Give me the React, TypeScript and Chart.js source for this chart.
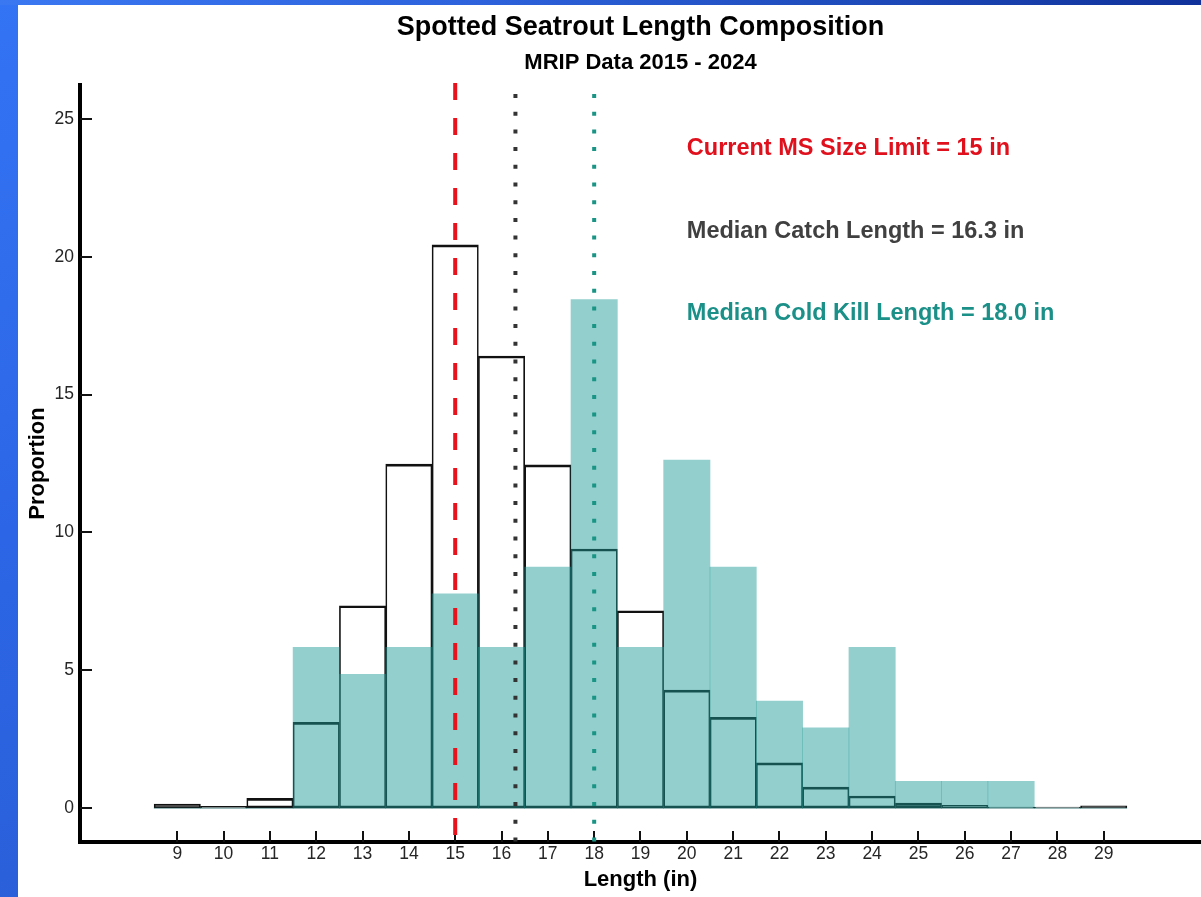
import React, { useEffect, useRef } from "react";
import { Chart, registerables } from "chart.js";

Chart.register(...registerables);

// ---------------- data ----------------
const lengthBins = [9, 10, 11, 12, 13, 14, 15, 16, 17, 18, 19, 20, 21, 22, 23, 24, 25, 26, 27, 28, 29];
const catchPct = [0.15, 0.06, 0.35, 3.11, 7.34, 12.48, 20.43, 16.4, 12.45, 9.4, 7.16, 4.28, 3.29, 1.64, 0.76, 0.44, 0.18, 0.1, 0.04, 0.04, 0.08];
const coldKillPct = [0, 0, 0, 5.83, 4.85, 5.83, 7.77, 5.83, 8.74, 18.45, 5.83, 12.62, 8.74, 3.88, 2.91, 5.83, 0.97, 0.97, 0.97, 0, 0];
const xTickValues = [9, 10, 11, 12, 13, 14, 15, 16, 17, 18, 19, 20, 21, 22, 23, 24, 25, 26, 27, 28, 29];
const yTickValues = [0, 5, 10, 15, 20, 25];
const refValues = [15, 16.3, 18.0];
const refLabels = [
  "Current MS Size Limit = 15 in",
  "Median Catch Length = 16.3 in",
  "Median Cold Kill Length = 18.0 in",
];
const refLabelY = [24, 21, 18];
const refLabelX = 20;

// ---------------- styles ----------------
const FONT = "Arial, 'Liberation Sans', Helvetica, sans-serif";
const refStyles = [
  { color: "#e8121c", dash: [17, 18], width: 4, offset: 0, text: "#e0101c" },
  { color: "#333333", dash: [4, 13.7], width: 4, offset: -11, text: "#404040" },
  { color: "#1a9484", dash: [4, 13.7], width: 4, offset: -11, text: "#1a9088" },
];

const overlayPlugin = {
  id: "overlay",
  afterDatasetsDraw(chart: any) {
    const { ctx, chartArea, scales } = chart;
    const x = scales.x;
    const y = scales.y;
    ctx.save();
    // inward tick marks
    ctx.strokeStyle = "#111";
    ctx.lineWidth = 2;
    yTickValues.forEach((v) => {
      const py = Math.round(y.getPixelForValue(v));
      ctx.beginPath();
      ctx.moveTo(chartArea.left, py);
      ctx.lineTo(chartArea.left + 12, py);
      ctx.stroke();
    });
    xTickValues.forEach((v) => {
      const px = Math.round(x.getPixelForValue(v));
      ctx.beginPath();
      ctx.moveTo(px, chartArea.bottom);
      ctx.lineTo(px, chartArea.bottom - 11);
      ctx.stroke();
    });
    // reference lines
    refValues.forEach((v, i) => {
      const s = refStyles[i];
      const px = x.getPixelForValue(v);
      ctx.strokeStyle = s.color;
      ctx.lineWidth = s.width;
      ctx.setLineDash(s.dash);
      ctx.lineDashOffset = s.offset;
      ctx.beginPath();
      ctx.moveTo(px, chartArea.top - 2);
      ctx.lineTo(px, chartArea.bottom);
      ctx.stroke();
    });
    ctx.setLineDash([]);
    // labels
    ctx.font = `bold 23.5px ${FONT}`;
    ctx.textAlign = "left";
    ctx.textBaseline = "middle";
    refLabels.forEach((t, i) => {
      ctx.fillStyle = refStyles[i].text;
      ctx.fillText(t, x.getPixelForValue(refLabelX), y.getPixelForValue(refLabelY[i]) + 2);
    });
    ctx.restore();
  },
};

export default function App() {
  const canvasRef = useRef<HTMLCanvasElement | null>(null);

  useEffect(() => {
    if (!canvasRef.current) return;
    Chart.defaults.font.family = FONT;
    const chart = new Chart(canvasRef.current, {
      type: "bar",
      data: {
        datasets: [
          {
            label: "Cold Kill",
            data: lengthBins.map((v, i) => ({ x: v, y: coldKillPct[i] })),
            backgroundColor: "rgba(27,154,150,0.48)",
            borderWidth: 0,
            grouped: false,
            categoryPercentage: 1,
            barPercentage: 1,
            order: 0,
          } as any,
          {
            label: "Catch",
            data: lengthBins.map((v, i) => ({ x: v, y: catchPct[i] })),
            backgroundColor: "rgba(0,0,0,0)",
            borderColor: "#111",
            borderWidth: { top: 2, bottom: 2, left: 1, right: 1 },
            borderSkipped: false,
            grouped: false,
            categoryPercentage: 1,
            barPercentage: 1,
            order: 1,
          } as any,
        ],
      },
      options: {
        responsive: false,
        devicePixelRatio: 1,
        animation: false,
        layout: { padding: 0 },
        plugins: {
          legend: { display: false },
          tooltip: { enabled: false },
          title: {
            display: true,
            text: "Spotted Seatrout Length Composition",
            fullSize: false,
            color: "#000",
            font: { size: 27, weight: "bold", family: FONT },
            padding: { top: 11.5, bottom: 0 },
          },
          subtitle: {
            display: true,
            text: "MRIP Data 2015 - 2024",
            fullSize: false,
            color: "#000",
            font: { size: 22, weight: "bold", family: FONT },
            padding: { top: 5.4, bottom: 9.3 },
          },
        },
        scales: {
          x: {
            type: "linear",
            min: 6.9,
            max: 31.1,
            offset: false,
            grid: { display: false, drawTicks: false },
            border: { display: true, color: "#000", width: 4 },
            afterBuildTicks: (s: any) => {
              s.ticks = xTickValues.map((v) => ({ value: v }));
            },
            afterFit: (s: any) => {
              s.height = 55;
            },
            ticks: {
              padding: 2,
              color: "#262626",
              font: { size: 17.5, family: FONT },
              autoSkip: false,
              maxRotation: 0,
              callback: (v: any) => String(v),
            },
            title: {
              display: true,
              text: "Length (in)",
              color: "#000",
              font: { size: 22, weight: "bold", family: FONT },
              padding: { top: 0, bottom: 3.8 },
            },
          },
          y: {
            min: -1.23,
            max: 26.23,
            grid: { display: false, drawTicks: false },
            border: { display: true, color: "#000", width: 4 },
            afterBuildTicks: (s: any) => {
              s.ticks = yTickValues.map((v) => ({ value: v }));
            },
            afterFit: (s: any) => {
              s.width = 80;
            },
            ticks: {
              padding: 6,
              color: "#262626",
              font: { size: 17.5, family: FONT },
              callback: (v: any) => String(v),
            },
            title: {
              display: true,
              text: "Proportion",
              color: "#000",
              font: { size: 22, weight: "bold", family: FONT },
              padding: { top: 24.8, bottom: 0 },
            },
          },
        },
      } as any,
      plugins: [overlayPlugin],
    });
    return () => chart.destroy();
  }, []);

  return (
    <div
      style={{
        position: "fixed",
        left: 0,
        top: 0,
        width: 1201,
        height: 897,
        overflow: "hidden",
        background: "linear-gradient(160deg, #3374f4 0%, #2c66e6 40%, #2a5fd8 70%, #3070ef 100%)",
      }}
    >
      <div
        style={{
          position: "absolute",
          left: 0,
          top: 0,
          width: 1201,
          height: 5,
          background: "linear-gradient(90deg, #3a78f2 0%, #2d62dc 40%, #1f4cbc 70%, #10319a 100%)",
        }}
      />
      <div
        style={{
          position: "absolute",
          left: 18,
          top: 5,
          width: 1183,
          height: 892,
          background: "#ffffff",
        }}
      />
      <canvas
        ref={canvasRef}
        width={1201}
        height={897}
        style={{ position: "absolute", left: 0, top: 0, width: 1201, height: 897 }}
      />
    </div>
  );
}
